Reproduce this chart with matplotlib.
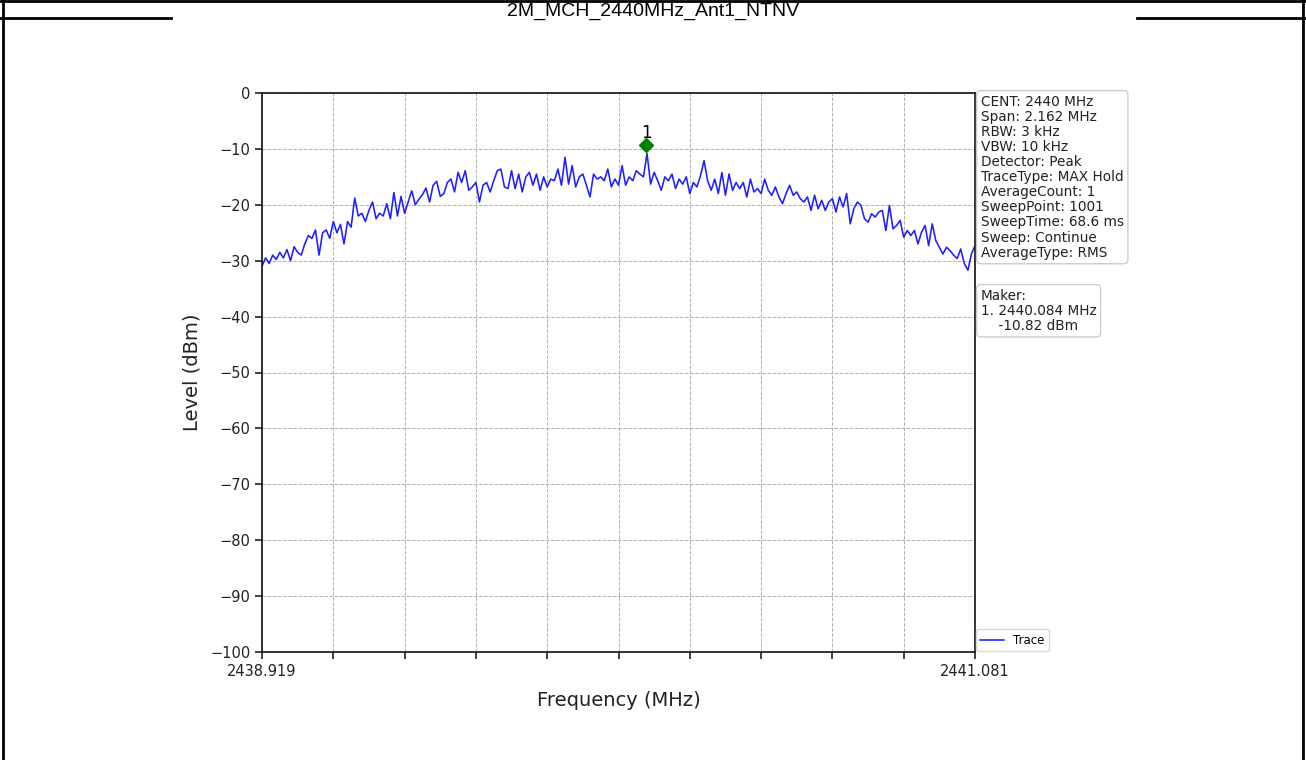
import numpy as np
import matplotlib
matplotlib.use('Agg')
import matplotlib.pyplot as plt
from matplotlib.lines import Line2D

# sweep settings
start_freq = 2438.919
stop_freq = 2441.081
title = '2M_MCH_2440MHz_Ant1_NTNV'

# trace levels (dBm), evenly spaced over the span
trace_level = [
    -31.0, -29.5, -30.5, -29.0, -29.8, -28.5, -29.5, -28.0, -30.0, -27.5,
    -28.5, -29.0, -27.0, -25.5, -26.0, -24.5, -29.0, -25.0, -24.5, -26.0,
    -23.0, -25.0, -23.5, -27.0, -23.0, -24.0, -18.8, -22.0, -21.5, -23.0,
    -21.0, -19.5, -22.5, -21.5, -22.0, -19.8, -22.5, -17.8, -22.0, -18.5,
    -21.5, -19.5, -17.5, -20.0, -19.0, -18.2, -17.0, -19.5, -16.5, -15.8,
    -18.5, -18.0, -16.0, -15.4, -17.7, -14.2, -16.0, -13.9, -17.4, -16.8,
    -16.0, -19.5, -16.5, -16.0, -17.7, -15.7, -13.9, -13.6, -16.8, -17.1,
    -13.9, -17.1, -14.5, -17.7, -15.0, -14.2, -16.5, -14.5, -17.4, -15.0,
    -16.8, -15.4, -15.7, -13.6, -16.5, -11.5, -16.3, -13.0, -16.8, -15.0,
    -14.5, -16.5, -18.6, -14.5, -15.4, -15.0, -15.7, -13.6, -16.8, -15.4,
    -16.5, -13.0, -16.5, -15.0, -15.7, -13.9, -14.5, -15.0, -10.82, -16.3,
    -14.2, -15.7, -17.4, -15.0, -15.7, -14.5, -17.1, -15.4, -16.3, -15.0,
    -18.0, -16.0, -16.8, -14.8, -12.1, -15.7, -17.4, -15.4, -18.0, -14.2,
    -18.3, -14.5, -17.4, -16.0, -17.1, -16.0, -18.6, -15.4, -17.7, -17.1,
    -18.0, -15.4, -17.4, -18.3, -16.8, -18.6, -19.8, -18.0, -16.5, -18.3,
    -17.7, -18.9, -19.5, -18.6, -21.0, -18.3, -20.7, -19.2, -21.0, -19.5,
    -18.9, -21.3, -18.6, -20.4, -18.0, -23.4, -20.7, -19.5, -20.1, -22.5,
    -23.1, -21.6, -22.2, -21.3, -21.0, -24.6, -20.1, -24.3, -23.7, -22.8,
    -25.8, -24.6, -25.5, -24.6, -27.0, -24.9, -23.7, -27.3, -23.4, -26.4,
    -27.6, -28.8, -27.6, -28.2, -29.0, -29.6, -27.9, -30.5, -31.7, -28.8,
    -27.3,
]

marker_freq = 2440.084
marker_level = -10.82

info_lines = [
    'CENT: 2440 MHz',
    'Span: 2.162 MHz',
    'RBW: 3 kHz',
    'VBW: 10 kHz',
    'Detector: Peak',
    'TraceType: MAX Hold',
    'AverageCount: 1',
    'SweepPoint: 1001',
    'SweepTime: 68.6 ms',
    'Sweep: Continue',
    'AverageType: RMS',
]

freq = np.linspace(start_freq, stop_freq, len(trace_level))

fig = plt.figure(figsize=(13.06, 7.6), dpi=100)

# report table frame around the plot
W, H = 1306.0, 760.0
def fig_line(x0, y0, x1, y1, lw=2.0):
    fig.add_artist(Line2D([x0 / W, x1 / W], [1 - y0 / H, 1 - y1 / H],
                          color='black', lw=lw, transform=fig.transFigure))

fig_line(0, 1, W, 1)
fig_line(3, 0, 3, H)
fig_line(1303, 0, 1303, H)
fig_line(0, 18, 171, 18)
fig_line(1137, 18, W, 18)
fig.text(0.5, 1 - 15.5 / H, title, ha='center', va='baseline',
         fontsize=14, family='Liberation Sans')

ax = fig.add_axes([262 / W, 1 - 652 / H, (975 - 262) / W, (652 - 93) / H])
ax.plot(freq, trace_level, color='#1f1fff', lw=1.15, label='Trace')
ax.plot(marker_freq, marker_level + 1.5, marker='D', color='green',
        markersize=7, linestyle='none')
ax.text(marker_freq, marker_level + 3.6, '1', ha='center', va='center',
        fontsize=12)

ax.set_xlim(start_freq, stop_freq)
ax.set_ylim(-100, 0)
xt = np.linspace(start_freq, stop_freq, 11)
ax.set_xticks(xt)
ax.set_xticklabels(['%.3f' % start_freq] + [''] * 9 + ['%.3f' % stop_freq])
ax.set_yticks(np.arange(-100, 1, 10))
ax.tick_params(labelsize=10.5, width=1.2, length=5, colors='#222222')
ax.grid(True, linestyle='--', color='#b0b0b0', lw=0.7)
for s in ax.spines.values():
    s.set_linewidth(1.3)
    s.set_color('#222222')

ax.set_xlabel('Frequency (MHz)', fontsize=14, labelpad=9, color='#222222')
ax.set_ylabel('Level (dBm)', fontsize=14, labelpad=6, color='#222222')

box = dict(boxstyle='round,pad=0.3', facecolor='white', edgecolor='#cccccc')
ax.text(1.008, 0.997, '\n'.join(info_lines), transform=ax.transAxes,
        va='top', ha='left', fontsize=9.8, linespacing=1.1, bbox=box,
        color='#222222')
ax.text(1.008, 0.65, 'Maker:\n1. %.3f MHz\n    %.2f dBm' % (marker_freq, marker_level),
        transform=ax.transAxes, va='top', ha='left', fontsize=9.8,
        linespacing=1.1, bbox=box, color='#222222')

ax.legend(loc='lower left', bbox_to_anchor=(1.0, 0.0), fontsize=8.5,
          frameon=True, borderaxespad=0.05)

fig.savefig('out.png', dpi=100)
